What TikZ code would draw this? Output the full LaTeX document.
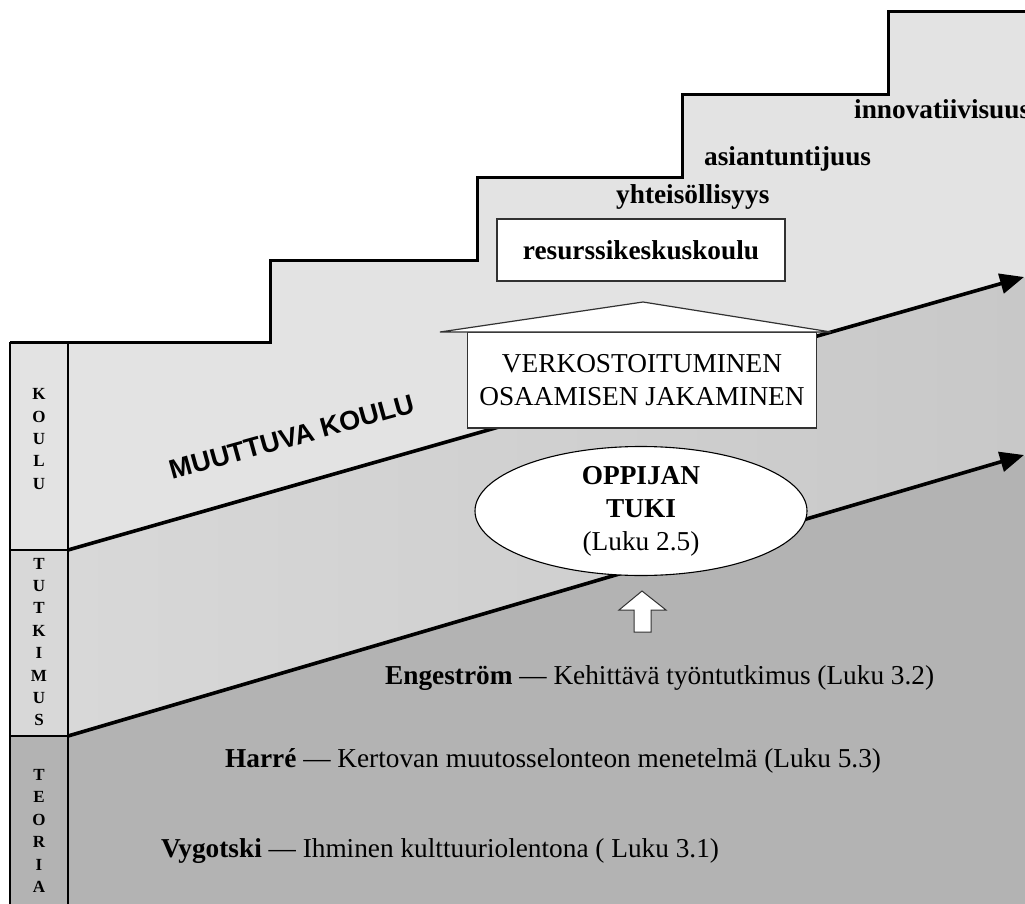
\documentclass[tikz,border=0pt]{standalone}
\usepackage{fontspec}
\setmainfont{Liberation Serif}
\newfontfamily\headsans{Liberation Sans}
\usetikzlibrary{arrows.meta,shapes.geometric}

\definecolor{kouluGray}{RGB}{227,227,227}
\definecolor{tutkLeft}{RGB}{216,216,216}
\definecolor{tutkRight}{RGB}{200,200,200}
\definecolor{teoriaGray}{RGB}{179,179,179}
\definecolor{edgeGray}{RGB}{50,50,50}

\begin{document}
\begin{tikzpicture}[x=1pt,y=-1pt,
  txt/.style={font=\fontsize{27.3}{33}\selectfont, inner sep=0pt},
  boldtxt/.style={font=\fontsize{27.3}{33}\selectfont\bfseries, inner sep=0pt},
  colletters/.style={font=\fontsize{17}{22.4}\selectfont\bfseries, align=center, inner sep=0pt},
  stairline/.style={line width=3pt, line join=miter},
  colline/.style={line width=2.5pt},
  trendarrow/.style={line width=3.6pt, -{Triangle[length=24pt,width=20pt]}},
  whitebox/.style={draw=edgeGray, line width=1.2pt, fill=white},
]
\useasboundingbox (0,0) rectangle (1025,904);

% band boundaries
\coordinate (k1) at (68,550);
\coordinate (a1) at (1024,277);
\coordinate (k2) at (68,736);
\coordinate (a2) at (1024,455);

% school band under the staircase
\fill[kouluGray] (68,342) -- (270,342) -- (270,260) -- (477,260) -- (477,178)
  -- (682,178) -- (682,95) -- (888,95) -- (888,12) -- (1026,12) -- (1026,277)
  -- (k1) -- cycle;
% research band
\shade[left color=tutkLeft, right color=tutkRight]
  (k1) -- (1026,277) -- (1026,455) -- (k2) -- cycle;
% theory band
\fill[teoriaGray] (k2) -- (1026,455) -- (1026,906) -- (68,906) -- cycle;

% side column cells
\fill[kouluGray] (10,342) rectangle (68,550);
\fill[tutkLeft] (10,550) rectangle (68,736);
\fill[teoriaGray] (10,736) rectangle (68,906);

% staircase outline
\draw[stairline] (10,342) -- (270,342) -- (270,260) -- (477,260) -- (477,178)
  -- (682,178) -- (682,95) -- (888,95) -- (888,12) -- (1027,12);

% side column outline
\draw[colline] (10,908) -- (10,342);
\draw[colline] (68,342) -- (68,908);
\draw[colline] (10,550) -- (k1);
\draw[colline] (10,736) -- (k2);

% column labels
\node[colletters] (lkoulu) at (39,439) {K\\O\\U\\L\\U};
\node[colletters] (ltutk) at (39,642) {T\\U\\T\\K\\I\\M\\U\\S};
\node[colletters] (lteoria) at (39,831) {T\\E\\O\\R\\I\\A};

% development arrows
\draw[trendarrow] (k1) -- (a1);
\draw[trendarrow] (k2) -- (a2);

\node[rotate=15.5, font=\fontsize{27}{30}\selectfont\headsans\bfseries, inner sep=0pt]
  (muuttuva) at (292,437) {MUUTTUVA KOULU};

% steps
\node[boldtxt, anchor=base west] (innov) at (854,119) {innovatiivisuus};
\node[boldtxt, anchor=base west] (asiant) at (704,166) {asiantuntijuus};
\node[boldtxt, anchor=base west] (yhteis) at (616,204) {yhteisöllisyys};

\node[whitebox, boldtxt, minimum width=288pt, minimum height=62pt]
  (resurssi) at (641,250) {resurssikeskuskoulu};

% house: networking and sharing
\node[whitebox, txt, align=center, minimum width=349pt, minimum height=96pt]
  (verk) at (642,380) {VERKOSTOITUMINEN\\OSAAMISEN JAKAMINEN};
\draw[whitebox] (440,332) -- (643,302) -- (831,332) -- cycle;

% learner support
\node[ellipse, draw=black, line width=1.1pt, fill=white, txt, align=center,
  minimum width=332pt, minimum height=129pt]
  (tuki) at (641,511) {\textbf{OPPIJAN}\\\textbf{TUKI}\\(Luku 2.5)};

% block arrow pointing up to the learner support
\draw[whitebox, line width=1pt] (642,591) -- (666,610) -- (651,610) -- (651,632)
  -- (634,632) -- (634,610) -- (619,610) -- cycle;

% theory lines
\node[txt, anchor=base west] (engestrom) at (385,684)
  {\textbf{Engeström} — Kehittävä työntutkimus (Luku 3.2)};
\node[txt, anchor=base west] (harre) at (225,767)
  {\textbf{Harré} — Kertovan muutosselonteon menetelmä (Luku 5.3)};
\node[txt, anchor=base west] (vygotski) at (161,857)
  {\textbf{Vygotski} — Ihminen kulttuuriolentona ( Luku 3.1)};
\end{tikzpicture}
\end{document}
